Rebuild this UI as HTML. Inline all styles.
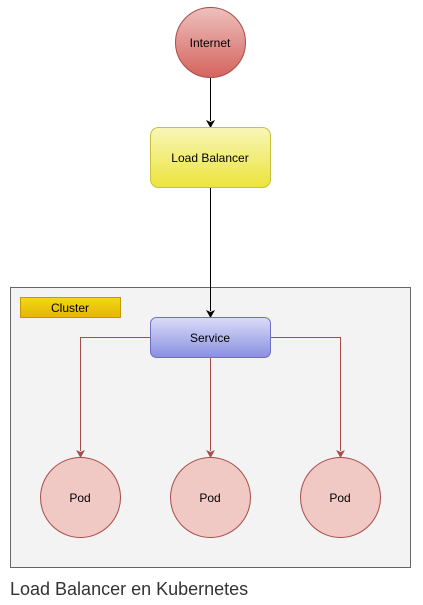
<!DOCTYPE html>
<html><head><style>body{margin:0;background:#fff}svg{display:block}</style></head><body>
<svg width="423" height="605" viewBox="0 0 423 605" xmlns="http://www.w3.org/2000/svg" font-family="Liberation Sans, sans-serif">
<defs>
<linearGradient id="r" x1="0" y1="0" x2="0" y2="1"><stop offset="0" stop-color="#eec0bd"/><stop offset="1" stop-color="#d5635e"/></linearGradient>
<linearGradient id="y" x1="0" y1="0" x2="0" y2="1"><stop offset="0" stop-color="#f8f6b8"/><stop offset="1" stop-color="#ece43c"/></linearGradient>
<linearGradient id="b" x1="0" y1="0" x2="0" y2="1"><stop offset="0" stop-color="#dadcf8"/><stop offset="1" stop-color="#8a8fe0"/></linearGradient>
<linearGradient id="g" x1="0" y1="0" x2="0" y2="1"><stop offset="0" stop-color="#f0d91a"/><stop offset="1" stop-color="#e8b400"/></linearGradient>
</defs>
<rect x="10.5" y="287.5" width="400" height="280" fill="#f3f3f3" stroke="#666"/>
<rect x="20.5" y="297.5" width="100" height="20" fill="url(#g)" stroke="#c09a00"/>
<text x="70" y="312" font-size="12" text-anchor="middle">Cluster</text>
<circle cx="210.5" cy="42.5" r="35" fill="url(#r)" stroke="#a84c48"/>
<text x="210" y="47" font-size="12" text-anchor="middle">Internet</text>
<line x1="210.5" y1="78" x2="210.5" y2="121" stroke="#000"/>
<path d="M206 120 L210.5 128 L215 120 L210.5 122 Z" fill="#000"/>
<rect x="150.5" y="127.5" width="120" height="60" rx="8" fill="url(#y)" stroke="#c8c040"/>
<text x="210" y="162" font-size="12" text-anchor="middle">Load Balancer</text>
<line x1="210.5" y1="188" x2="210.5" y2="311" stroke="#000"/>
<path d="M206 310 L210.5 318 L215 310 L210.5 312 Z" fill="#000"/>
<g stroke="#a84c48" fill="none">
<path d="M150 337.5 H80.5 V451"/><path d="M270 337.5 H340.5 V451"/><path d="M210.5 358 V451"/>
</g>
<g fill="#a84c48">
<path d="M76 450 L80.5 458 L85 450 L80.5 452Z"/><path d="M206 450 L210.5 458 L215 450 L210.5 452Z"/><path d="M336 450 L340.5 458 L345 450 L340.5 452Z"/>
</g>
<rect x="150.5" y="317.5" width="120" height="40" rx="6" fill="url(#b)" stroke="#7070c0"/>
<text x="210" y="342" font-size="12" text-anchor="middle">Service</text>
<g fill="#f0c8c4" stroke="#a84c48">
<circle cx="80.5" cy="497.5" r="40"/><circle cx="210.5" cy="497.5" r="40"/><circle cx="340.5" cy="497.5" r="40"/>
</g>
<g font-size="12" text-anchor="middle"><text x="80" y="502">Pod</text><text x="210" y="502">Pod</text><text x="340" y="502">Pod</text></g>
<text x="10" y="595" font-size="18" fill="#333">Load Balancer en Kubernetes</text>
</svg>
</body></html>
